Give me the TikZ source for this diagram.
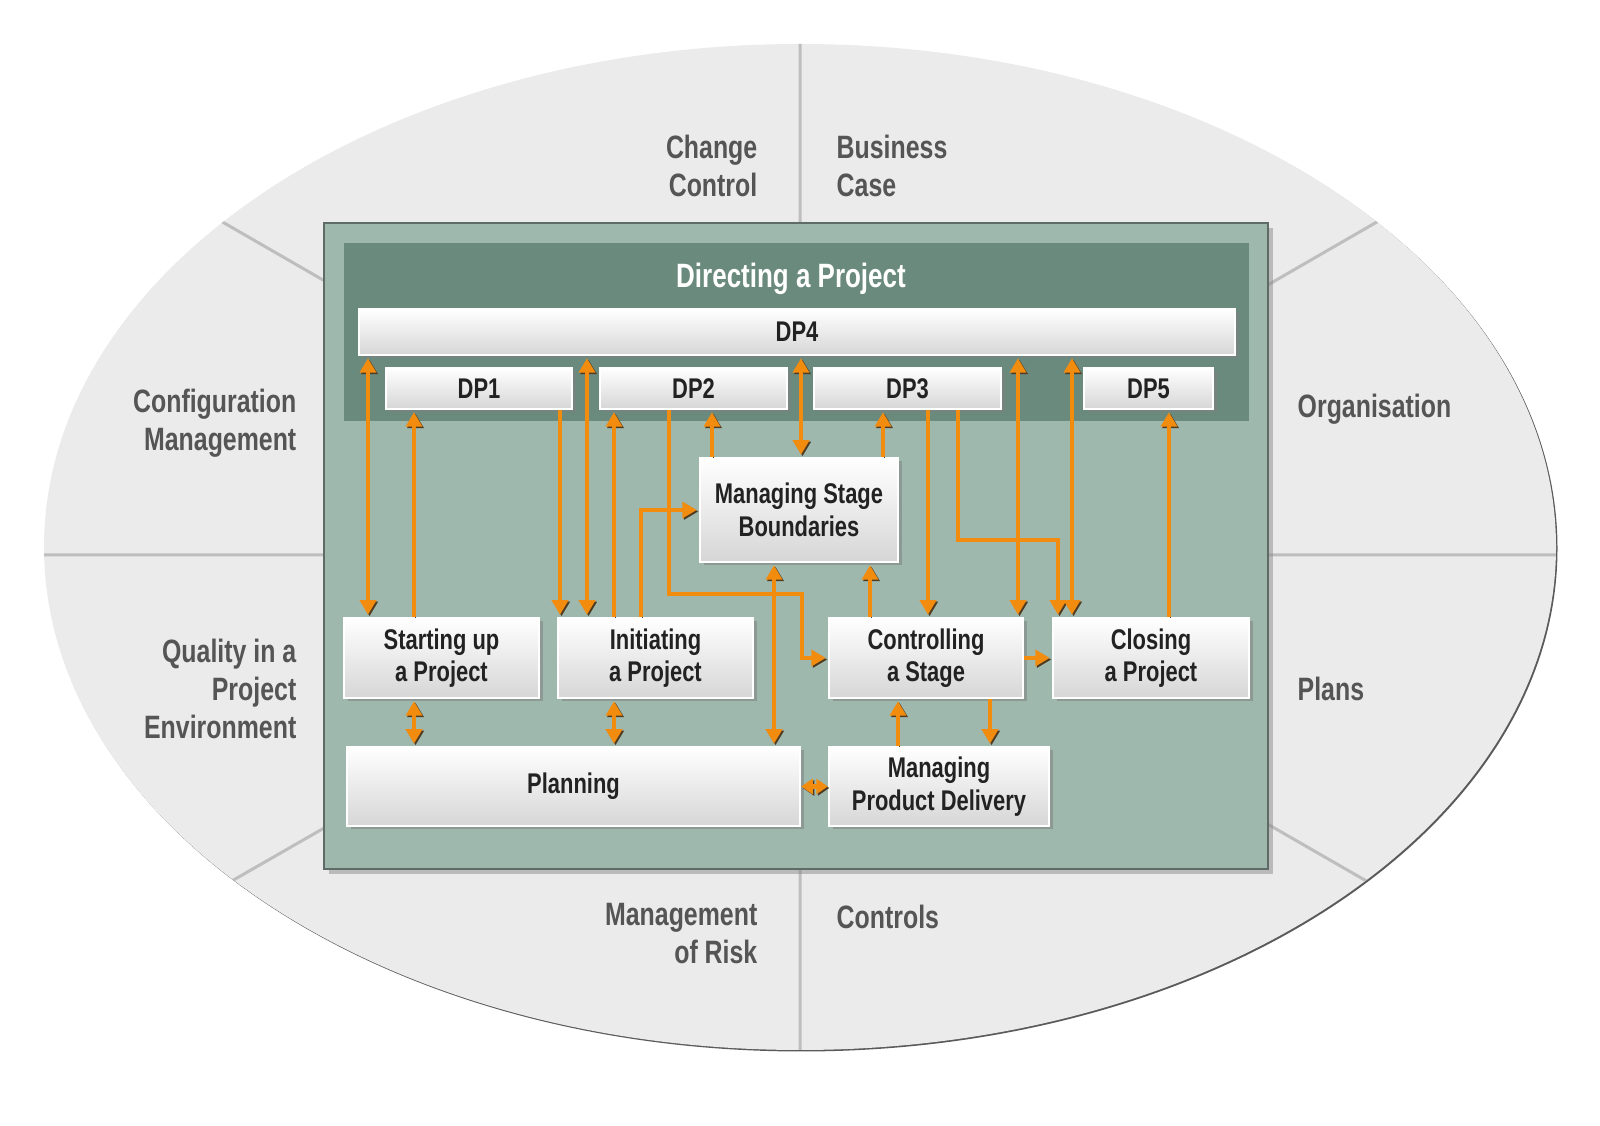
\documentclass[tikz,border=0pt]{standalone}
\usepackage{fontspec}
\setmainfont{Liberation Sans}[FakeStretch=0.77]
\usetikzlibrary{arrows.meta,shadows}
\definecolor{OvalGrey}{HTML}{EBEBEB}
\definecolor{OvalEdge}{HTML}{5A5A5A}
\definecolor{Divider}{HTML}{BEBEBE}
\definecolor{PanelGreen}{HTML}{9EB8AE}
\definecolor{BandGreen}{HTML}{6A8A7E}
\definecolor{PanelEdge}{HTML}{5E6B66}
\definecolor{ArrowOrange}{HTML}{F28C0F}
\definecolor{ArrowEdge}{HTML}{4F3A22}
\definecolor{BoxBottom}{HTML}{D6D6D6}
\definecolor{TextDark}{HTML}{222222}
\definecolor{LabelGrey}{HTML}{555555}
\tikzset{
  procbox/.style={draw=white, line width=0.25mm, top color=white, bottom color=BoxBottom,
    drop shadow={shadow xshift=0.35mm, shadow yshift=-0.35mm, opacity=0.55},
    text=TextDark, font=\bfseries\fontsize{8.1pt}{9.2pt}\selectfont, align=center, inner sep=0pt},
  dpbox/.style={procbox, minimum height=4.1mm},
  sector/.style={text=LabelGrey, font=\bfseries\fontsize{9.2pt}{10.8pt}\selectfont, inner sep=0pt},
  titletext/.style={text=white, font=\bfseries\fontsize{9.6pt}{11pt}\selectfont, inner sep=0pt},
  arr/.style={-{Triangle[length=1.45mm,width=1.6mm]}, line width=0.42mm, draw=ArrowOrange, shorten >=0.2mm,
    preaction={draw=ArrowEdge, transform canvas={xshift=0.15mm,yshift=-0.15mm}}},
  darr/.style={arr, {Triangle[length=1.45mm,width=1.6mm]}-{Triangle[length=1.45mm,width=1.6mm]}, shorten <=0.2mm},
  shortarr/.style={arr, {Triangle[length=1.15mm,width=1.5mm]}-{Triangle[length=1.15mm,width=1.5mm]}, shorten >=0mm}
}
\begin{document}
\begin{tikzpicture}[x=0.1mm,y=-0.1mm]
\useasboundingbox (0,0) rectangle (1600,1126);
% themes oval
\fill[OvalEdge] (801.5,548.5) ellipse [x radius=756, y radius=503];
\fill[OvalGrey] (800,547) ellipse [x radius=756, y radius=503];
\begin{scope}
\clip (800,547) ellipse [x radius=756, y radius=503];
\draw[Divider, line width=0.3mm] (800,0) -- (800,1126) (0,555) -- (1600,555)
  (800,555) -- (160,186) (800,555) -- (176,913) (800,555) -- (1434,189) (800,555) -- (1422,913);
\end{scope}
\node[sector, anchor=east, align=right] (chg) at (758,166) {Change\\Control};
\node[sector, anchor=west, align=left] (bus) at (836,166) {Business\\Case};
\node[sector, anchor=east, align=right] (cfg) at (297,423) {Configuration\\Management};
\node[sector, anchor=west] (org) at (1297,409) {Organisation};
\node[sector, anchor=east, align=right] (qual) at (297,689) {Quality in a\\Project\\Environment};
\node[sector, anchor=west] (plans) at (1297,689) {Plans};
\node[sector, anchor=east, align=right] (risk) at (758,934) {Management\\of Risk};
\node[sector, anchor=west] (ctls) at (836,917) {Controls};
% process panel
\path[fill=PanelGreen, draw=PanelEdge, line width=0.2mm,
  drop shadow={shadow xshift=0.5mm, shadow yshift=-0.5mm, opacity=0.45}] (324,223) rectangle (1268,869);
\fill[BandGreen] (344,243) rectangle (1249,421);
\node[titletext] (title) at (791,279) {Directing a Project};
\node[procbox, minimum width=87.6mm, minimum height=4.6mm] (dpfour) at (797,332) {DP4};
\node[dpbox, minimum width=18.6mm] (dpone) at (479,388.5) {DP1};
\node[dpbox, minimum width=18.7mm] (dptwo) at (693.5,388.5) {DP2};
\node[dpbox, minimum width=18.7mm] (dpthree) at (907.5,388.5) {DP3};
\node[dpbox, minimum width=12.9mm] (dpfive) at (1148.5,388.5) {DP5};
\node[procbox, minimum width=19.8mm, minimum height=10.4mm] (msb) at (799,510) {Managing Stage\\Boundaries};
\node[procbox, minimum width=19.5mm, minimum height=8mm] (start) at (441.5,658) {Starting up\\a Project};
\node[procbox, minimum width=19.5mm, minimum height=8mm] (init) at (655.5,658) {Initiating\\a Project};
\node[procbox, minimum width=19.4mm, minimum height=8mm] (ctrl) at (926,658) {Controlling\\a Stage};
\node[procbox, minimum width=19.6mm, minimum height=8mm] (close) at (1151,658) {Closing\\a Project};
\node[procbox, minimum width=45.3mm, minimum height=7.9mm] (plan) at (573.5,786.5) {Planning};
\node[procbox, minimum width=22mm, minimum height=7.9mm] (mpd) at (939,786.5) {Managing\\Product Delivery};
\foreach \name/\xpos in {ca/368,cb/414,cc/560,cd/587,ce/614,cf/641,cg/669,ch/712,ci/774,cj/801,
    ck/870,cl/883,cm/898,cn/928,co/958,cp/990,cq/1018,cr/1058,cs/1072,ct/1169}
  \coordinate (\name) at (\xpos,0);
\coordinate (bendA) at (802,594);
\coordinate (bendB) at (1058,540);
% flows
\draw[darr] (ca |- dpfour.south) -- (ca |- start.north);
\draw[arr] (cb |- start.north) -- (cb |- dpone.south);
\draw[arr] (cc |- dpone.south) -- (cc |- init.north);
\draw[darr] (cd |- dpfour.south) -- (cd |- init.north);
\draw[arr] (ce |- init.north) -- (ce |- dptwo.south);
\draw[arr] (cf |- init.north) |- (msb.west);
\draw[arr] (cg |- dptwo.south) |- (bendA) |- (ctrl.west);
\draw[arr] (ch |- msb.north) -- (ch |- dptwo.south);
\draw[darr] (cj |- dpfour.south) -- (cj |- msb.north);
\draw[arr] (cl |- msb.north) -- (cl |- dpthree.south);
\draw[arr] (cn |- dpthree.south) -- (cn |- ctrl.north);
\draw[arr] (co |- dpthree.south) |- (bendB) -- (cr |- close.north);
\draw[darr] (cq |- dpfour.south) -- (cq |- ctrl.north);
\draw[darr] (cs |- dpfour.south) -- (cs |- close.north);
\draw[arr] (ct |- close.north) -- (ct |- dpfive.south);
\draw[darr] (ci |- msb.south) -- (ci |- plan.north);
\draw[arr] (ck |- ctrl.north) -- (ck |- msb.south);
\draw[arr] (ctrl.east) -- (close.west);
\draw[darr] (cb |- start.south) -- (cb |- plan.north);
\draw[darr] (ce |- init.south) -- (ce |- plan.north);
\draw[arr] (cm |- mpd.north) -- (cm |- ctrl.south);
\draw[arr] (cp |- ctrl.south) -- (cp |- mpd.north);
\draw[shortarr] (plan.east) -- (mpd.west);
\end{tikzpicture}
\end{document}
